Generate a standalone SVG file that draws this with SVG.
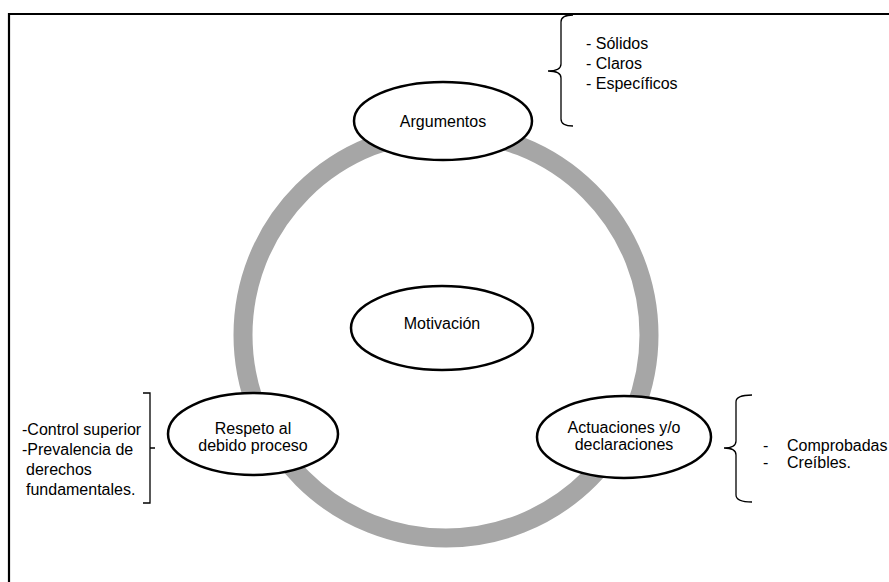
<svg xmlns="http://www.w3.org/2000/svg" width="889" height="582" viewBox="0 0 889 582">
<style>
.t{font-family:"Liberation Sans",Arial,sans-serif;font-size:16px;fill:#000}
.c{text-anchor:middle}
.n{fill:#fff;stroke:#000;stroke-width:2.5}
.b{fill:none;stroke:#000;stroke-width:1.3}
</style>
<rect x="0" y="0" width="889" height="582" fill="#fff"/>
<path d="M9 582 V14 H889" fill="none" stroke="#000" stroke-width="2.2"/>
<g id="connectors">
<circle cx="446" cy="335" r="203" fill="none" stroke="#a6a6a6" stroke-width="19"/>
</g>
<g id="argumentos">
<ellipse class="n" cx="443" cy="121" rx="89" ry="39"/>
<text class="t c" x="443" y="127">Argumentos</text>
</g>
<g id="motivacion">
<ellipse class="n" cx="442" cy="328" rx="91" ry="42"/>
<text class="t c" x="442" y="329">Motivación</text>
</g>
<g id="respeto">
<ellipse class="n" cx="253" cy="434" rx="85" ry="41"/>
<text class="t c" x="253" y="434">Respeto al</text>
<text class="t c" x="253" y="451">debido proceso</text>
</g>
<g id="actuaciones">
<ellipse class="n" cx="624" cy="437" rx="87" ry="41"/>
<text class="t c" x="624" y="433">Actuaciones y/o</text>
<text class="t c" x="624" y="450">declaraciones</text>
</g>
<g id="brace-top">
<path class="b" d="M573 15 Q561 15 561 22 V64 Q561 71 548 71 Q561 71 561 78 V119 Q561 126 573 126"/>
<text class="t" x="586" y="49">- Sólidos</text>
<text class="t" x="586" y="69">- Claros</text>
<text class="t" x="586" y="89">- Específicos</text>
</g>
<g id="brace-left">
<path class="b" d="M143 393 H150 V503 H143 M150 448 H155"/>
<text class="t" x="22" y="435">-Control superior</text>
<text class="t" x="22" y="455">-Prevalencia de</text>
<text class="t" x="26" y="475">derechos</text>
<text class="t" x="26" y="495">fundamentales.</text>
</g>
<g id="brace-right">
<path class="b" d="M752 395 Q736 395 736 402 V441 Q736 448 724 448 Q736 448 736 455 V495 Q736 502 752 502"/>
<text class="t" x="763" y="451">-</text>
<text class="t" x="787" y="451">Comprobadas</text>
<text class="t" x="763" y="468">-</text>
<text class="t" x="787" y="468">Creíbles.</text>
</g>
</svg>
